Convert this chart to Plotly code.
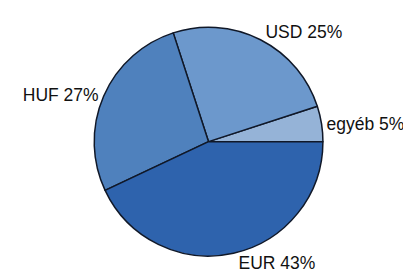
import plotly.graph_objects as go

labels = ["egyéb", "USD", "HUF", "EUR"]
values = [5, 25, 27, 43]
colors = ["#95b3d7", "#6c98cc", "#4f81bd", "#2e63ad"]

W, H = 411, 270
cx, cy, rx, ry = 194, 124.5, 127, 124.5  # domain center (from left / bottom) and half-sizes in px

fig = go.Figure(go.Pie(
    labels=labels,
    values=values,
    sort=False,
    direction="counterclockwise",
    rotation=72,
    marker=dict(colors=colors, line=dict(color="#101828", width=1.5)),
    textposition="outside",
    texttemplate="%{label} %{percent:.0%}",
    textfont=dict(family="Liberation Sans, Arial", size=17.5, color="#111111"),
    showlegend=False,
    domain=dict(x=[(cx - rx) / W, (cx + rx) / W], y=[max(0, (cy - ry) / H), (cy + ry) / H]),
    hoverinfo="skip",
))
fig.update_layout(
    width=W, height=H,
    margin=dict(l=0, r=0, t=0, b=0),
    paper_bgcolor="white",
    plot_bgcolor="white",
)
fig.write_html("out.html")
